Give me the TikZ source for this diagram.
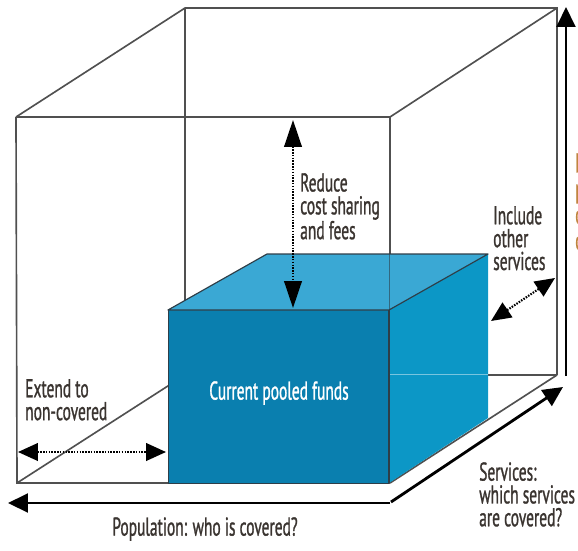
\documentclass[tikz,border=0pt]{standalone}
\usepackage{fontspec}
\setmainfont[FakeStretch=0.6,FakeBold=1]{PT Sans}
\usetikzlibrary{arrows.meta}
\definecolor{edgec}{HTML}{505050}
\definecolor{topc}{HTML}{3AA8D4}
\definecolor{frontc}{HTML}{0A7FAF}
\definecolor{sidec}{HTML}{0C97C6}
\definecolor{boxedge}{HTML}{2E3E48}
\definecolor{txtc}{HTML}{3A3430}
\definecolor{orangec}{HTML}{C0843F}
\tikzset{
  cubeedge/.style={draw=edgec, line width=1.4pt},
  boxline/.style={draw=boxedge, line width=1pt, line join=round},
  bigarrow/.style={draw=black, line width=2.4pt, -{Triangle[length=17pt,width=16pt]}},
  dotarrow/.style={draw=black, line width=1.8pt, dash pattern=on 1.3pt off 1.1pt,
    {Triangle[length=17pt,width=15pt]}-{Triangle[length=17pt,width=15pt]}},
  vdotarrow/.style={draw=black, line width=1.8pt, dash pattern=on 1.3pt off 1.1pt,
    {Triangle[length=23pt,width=15pt]}-{Triangle[length=23pt,width=15pt]}},
  lbl/.style={text=txtc, font=\fontsize{22}{19.5}\selectfont, align=left, inner sep=0pt},
  olbl/.style={text=orangec, font=\fontsize{23}{22}\selectfont, align=left, inner sep=0pt},
}
\begin{document}
\begin{tikzpicture}[x=0.03cm,y=-0.03cm]
\useasboundingbox (0,0) rectangle (578,551);
% outer cube corners
\coordinate (FTL) at (16,117);
\coordinate (FTR) at (390,117);
\coordinate (FBL) at (17,483);
\coordinate (FBR) at (390,483);
\coordinate (BTL) at (185,8);
\coordinate (BTR) at (557,8);
\coordinate (BBL) at (185,375);
\coordinate (BBR) at (557,375);
% box corners
\coordinate (bFTL) at (168,310);
\coordinate (bFTR) at (389,310);
\coordinate (bBTL) at (267,254);
\coordinate (bBTR) at (488,254);
\coordinate (bFBL) at (168,483);
\coordinate (bFBR) at (389,483);
\coordinate (bBBR) at (488,418);

% back edges of outer cube
\draw[cubeedge] (BTL) -- (BBL);
\draw[cubeedge] (BBL) -- (BBR);
\draw[cubeedge] (FBL) -- (BBL);
\draw[cubeedge] (FBR) -- (BBR);
% outer edges
\draw[cubeedge] (FTL) -- (BTL) -- (BTR) -- (BBR);
\draw[cubeedge] (FTR) -- (BTR);
\draw[cubeedge] (FTL) -- (FTR) -- (FBR);
\draw[cubeedge] (FTL) -- (FBL) -- (FBR);

% blue box
\fill[sidec] (bFTR) -- (bBTR) -- (bBBR) -- (bFBR) -- cycle;
\fill[frontc] (bFTL) -- (bFTR) -- (bFBR) -- (bFBL) -- cycle;
\fill[topc] (bFTL) -- (bBTL) -- (bBTR) -- (bFTR) -- cycle;
\draw[white, opacity=0.45, line width=0.8pt] (389,374) -- (488,374);
\draw[boxline] (bFTL) -- (bBTL) -- (bBTR) -- (bFTR) -- cycle;
\draw[boxline] (bFTR) -- (bFBR);
\draw[boxedge, opacity=0.6, line width=0.8pt] (389,254) -- (bFTR);
\draw[boxedge, line width=0.6pt] (bFTL) -- (bFBL) -- (bFBR);

% big axis arrows
\coordinate (popS) at (390,503);
\coordinate (popE) at (8,503);
\coordinate (serS) at (391,502);
\coordinate (serE) at (563,387);
\coordinate (dirS) at (566,376);
\coordinate (dirE) at (566,7);
\draw[bigarrow] (popS) -- (popE);
\draw[bigarrow] (serS) -- (serE);
\draw[bigarrow] (dirS) -- (dirE);

% dotted arrows
\coordinate (rA) at (293,120);
\coordinate (rB) at (293,308);
\coordinate (eA) at (18,452);
\coordinate (eB) at (166,452);
\coordinate (iA) at (491,321);
\coordinate (iB) at (555,278);
\draw[vdotarrow] (rA) -- (rB);
\draw[dotarrow] (eA) -- (eB);
\draw[dotarrow] (iA) -- (iB);

% labels
\node[lbl, anchor=north west] (reduce) at (300,173) {Reduce\\cost sharing\\and fees};
\node[lbl, anchor=north west] (include) at (493,206) {Include\\other\\services};
\node[lbl, anchor=north west] (extend) at (25,379) {Extend to\\non-covered};
\node[lbl, anchor=north west] (services) at (479,462) {Services:\\which services\\are covered?};
\node[lbl, anchor=north] (population) at (205,517) {Population: who is covered?};
\node[lbl, text=white] (pooled) at (279,393) {Current pooled funds};
\begin{scope}
\clip (0,0) rectangle (578,551);
\node[olbl, anchor=north west] (direct) at (575,153) {Direct costs:\\proportion\\of the costs\\covered};
\end{scope}
\end{tikzpicture}
\end{document}
